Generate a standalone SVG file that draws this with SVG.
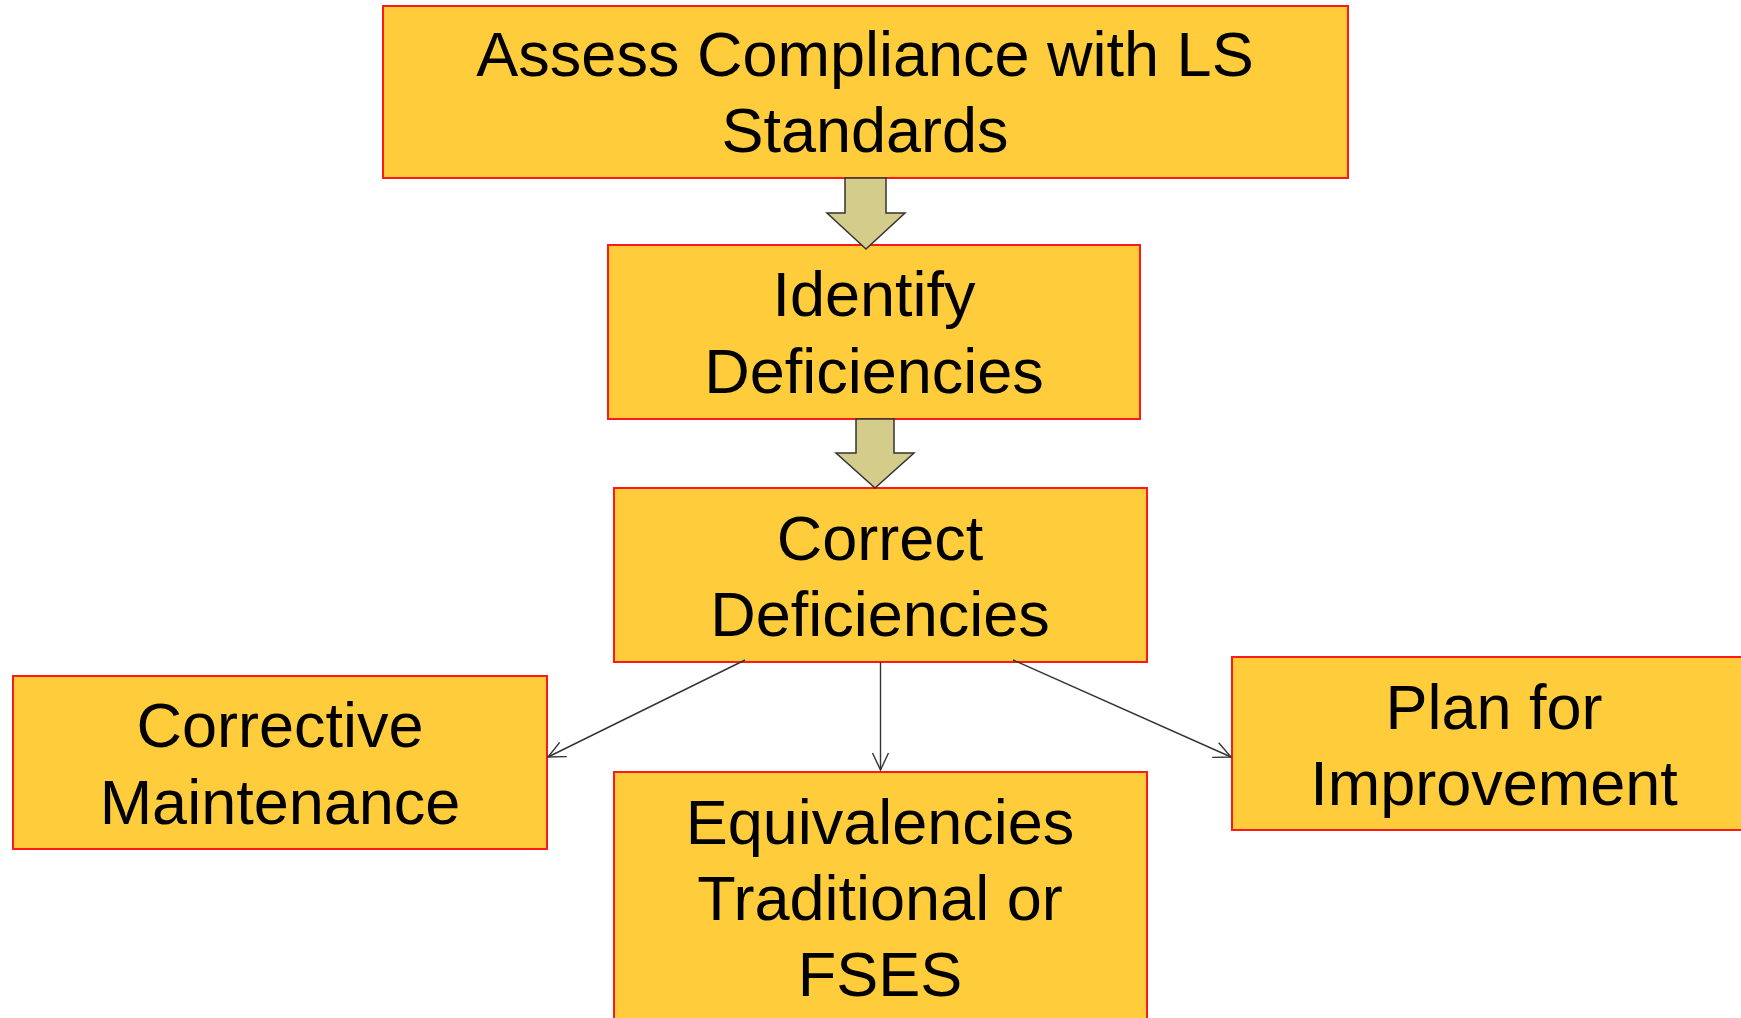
<svg xmlns="http://www.w3.org/2000/svg" width="1741" height="1018" viewBox="0 0 1741 1018">
<style>
.box{fill:#FFCC3C;stroke:#FF1A1A;stroke-width:2}
.t{font-family:"Liberation Sans",Arial,sans-serif;font-size:63px;fill:#000;text-anchor:middle}
.blk{fill:#D3CC8A;stroke:#333;stroke-width:1.5;stroke-linejoin:miter}
.ln{fill:none;stroke:#333;stroke-width:1.4}
</style>
<defs>
<marker id="ah" viewBox="0 0 20 20" refX="19" refY="10" markerWidth="20" markerHeight="20" markerUnits="userSpaceOnUse" orient="auto">
<path d="M2,2 L19,10 L2,18" fill="none" stroke="#333" stroke-width="1.4"/>
</marker>
</defs>
<rect width="1741" height="1018" fill="#fff"/>
<g id="node-assess">
<rect class="box" x="383" y="6" width="965" height="172"/>
<text class="t" x="865" y="76">Assess Compliance with LS</text>
<text class="t" x="865" y="152">Standards</text>
</g>
<g id="node-identify">
<rect class="box" x="608" y="245" width="532" height="174"/>
<text class="t" x="874" y="316">Identify</text>
<text class="t" x="874" y="393">Deficiencies</text>
</g>
<g id="node-correct">
<rect class="box" x="614" y="488" width="533" height="174"/>
<text class="t" x="880" y="560">Correct</text>
<text class="t" x="880" y="636">Deficiencies</text>
</g>
<g id="node-corrective">
<rect class="box" x="13" y="676" width="534" height="173"/>
<text class="t" x="280" y="747">Corrective</text>
<text class="t" x="280" y="824">Maintenance</text>
</g>
<g id="node-equiv">
<rect class="box" x="614" y="772" width="533" height="260"/>
<text class="t" x="880" y="844">Equivalencies</text>
<text class="t" x="880" y="920">Traditional or</text>
<text class="t" x="880" y="996">FSES</text>
</g>
<g id="node-plan">
<rect class="box" x="1232" y="657" width="540" height="173"/>
<text class="t" x="1494" y="729">Plan for</text>
<text class="t" x="1494" y="805">Improvement</text>
</g>
<g id="connectors">
<path class="blk" d="M845,178 L886,178 L886,213 L905,213 L866,249 L827,213 L845,213 Z"/>
<path class="blk" d="M856,419 L894,419 L894,453 L914,453 L875,488 L836,453 L856,453 Z"/>
<line class="ln" x1="745" y1="660" x2="548" y2="757" marker-end="url(#ah)"/>
<line class="ln" x1="880.5" y1="662" x2="880.5" y2="770" marker-end="url(#ah)"/>
<line class="ln" x1="1013" y1="660" x2="1231" y2="757" marker-end="url(#ah)"/>
</g>
</svg>
